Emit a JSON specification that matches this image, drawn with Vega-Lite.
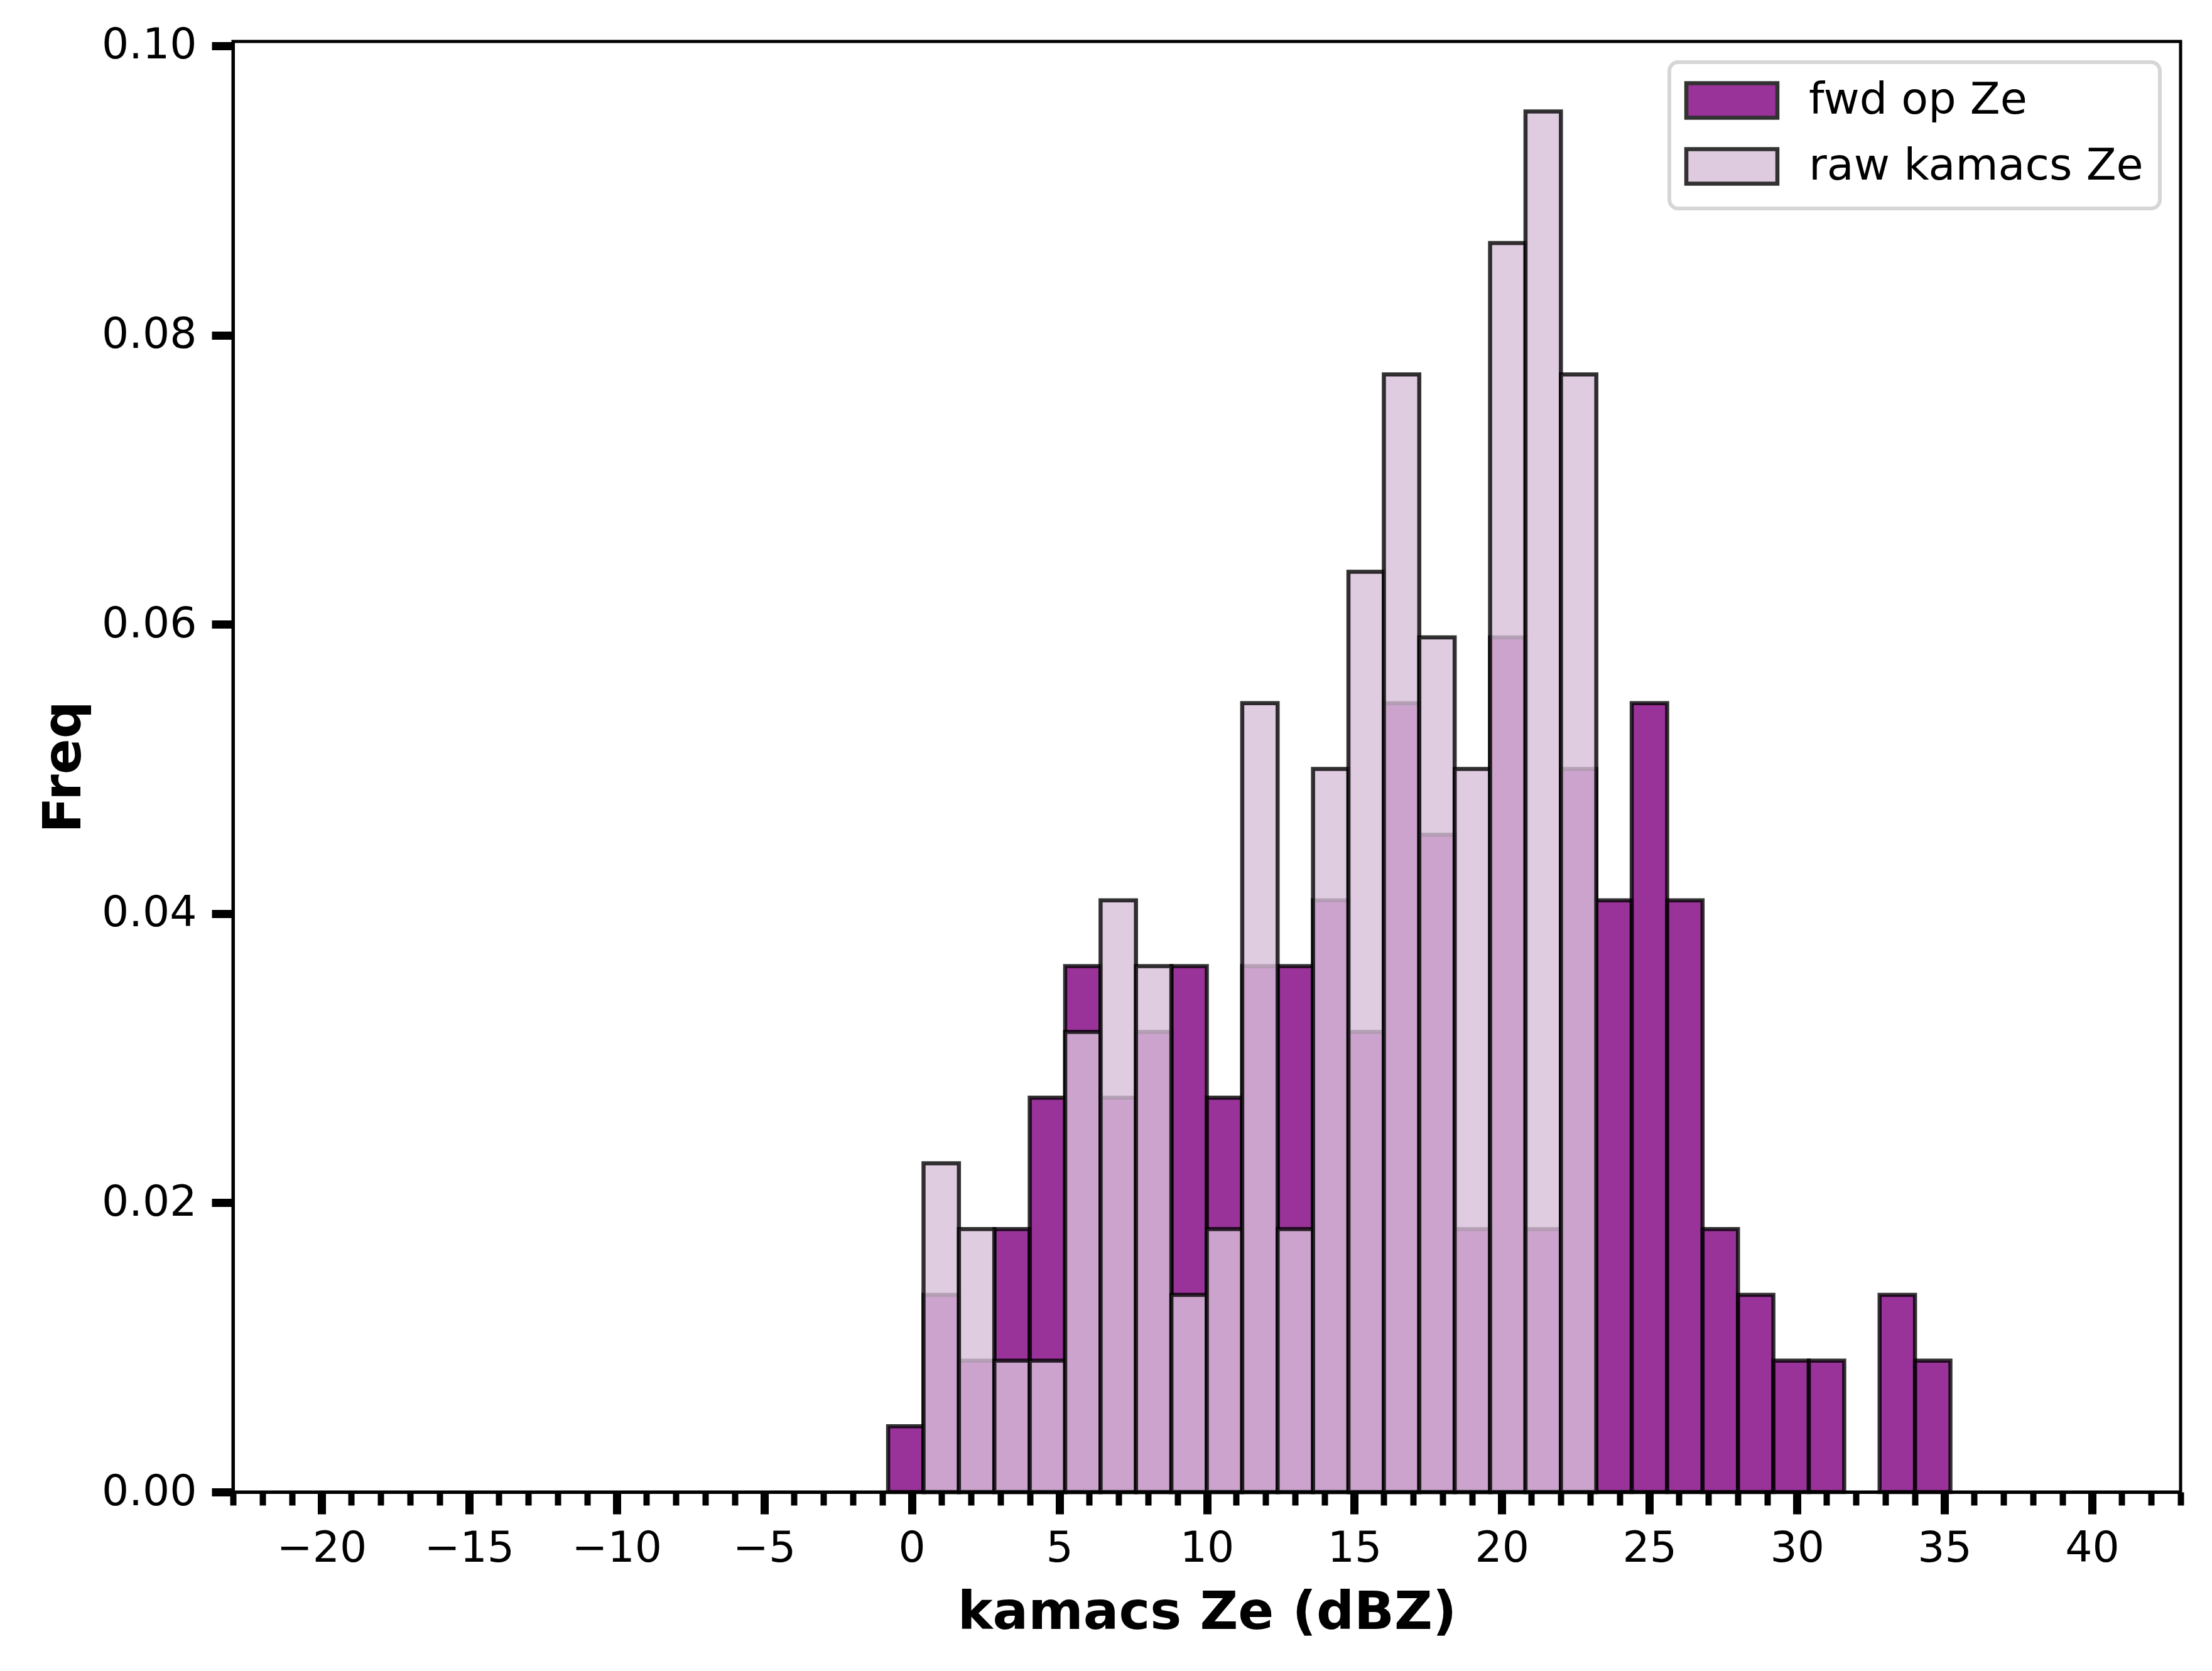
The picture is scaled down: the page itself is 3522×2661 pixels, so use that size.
{
  "$schema": "https://vega.github.io/schema/vega-lite/v6.json",
  "width": 3101,
  "height": 2310,
  "autosize": {"type": "none"},
  "padding": {"left": 371, "top": 66, "right": 50, "bottom": 285},
  "background": "white",
  "data": {
    "values": [
      {"series": "fwd op Ze", "lo": -0.8, "hi": 0.4, "freq": 0.004545},
      {"series": "fwd op Ze", "lo": 0.4, "hi": 1.6, "freq": 0.013636},
      {"series": "fwd op Ze", "lo": 1.6, "hi": 2.8, "freq": 0.009091},
      {"series": "fwd op Ze", "lo": 2.8, "hi": 4.0, "freq": 0.018182},
      {"series": "fwd op Ze", "lo": 4.0, "hi": 5.2, "freq": 0.027273},
      {"series": "fwd op Ze", "lo": 5.2, "hi": 6.4, "freq": 0.036364},
      {"series": "fwd op Ze", "lo": 6.4, "hi": 7.6, "freq": 0.027273},
      {"series": "fwd op Ze", "lo": 7.6, "hi": 8.8, "freq": 0.031818},
      {"series": "fwd op Ze", "lo": 8.8, "hi": 10.0, "freq": 0.036364},
      {"series": "fwd op Ze", "lo": 10.0, "hi": 11.2, "freq": 0.027273},
      {"series": "fwd op Ze", "lo": 11.2, "hi": 12.4, "freq": 0.036364},
      {"series": "fwd op Ze", "lo": 12.4, "hi": 13.6, "freq": 0.036364},
      {"series": "fwd op Ze", "lo": 13.6, "hi": 14.8, "freq": 0.040909},
      {"series": "fwd op Ze", "lo": 14.8, "hi": 16.0, "freq": 0.031818},
      {"series": "fwd op Ze", "lo": 16.0, "hi": 17.2, "freq": 0.054545},
      {"series": "fwd op Ze", "lo": 17.2, "hi": 18.4, "freq": 0.045455},
      {"series": "fwd op Ze", "lo": 18.4, "hi": 19.6, "freq": 0.018182},
      {"series": "fwd op Ze", "lo": 19.6, "hi": 20.8, "freq": 0.059091},
      {"series": "fwd op Ze", "lo": 20.8, "hi": 22.0, "freq": 0.018182},
      {"series": "fwd op Ze", "lo": 22.0, "hi": 23.2, "freq": 0.05},
      {"series": "fwd op Ze", "lo": 23.2, "hi": 24.4, "freq": 0.040909},
      {"series": "fwd op Ze", "lo": 24.4, "hi": 25.6, "freq": 0.054545},
      {"series": "fwd op Ze", "lo": 25.6, "hi": 26.8, "freq": 0.040909},
      {"series": "fwd op Ze", "lo": 26.8, "hi": 28.0, "freq": 0.018182},
      {"series": "fwd op Ze", "lo": 28.0, "hi": 29.2, "freq": 0.013636},
      {"series": "fwd op Ze", "lo": 29.2, "hi": 30.4, "freq": 0.009091},
      {"series": "fwd op Ze", "lo": 30.4, "hi": 31.6, "freq": 0.009091},
      {"series": "fwd op Ze", "lo": 32.8, "hi": 34.0, "freq": 0.013636},
      {"series": "fwd op Ze", "lo": 34.0, "hi": 35.2, "freq": 0.009091},
      {"series": "raw kamacs Ze", "lo": 0.4, "hi": 1.6, "freq": 0.022727},
      {"series": "raw kamacs Ze", "lo": 1.6, "hi": 2.8, "freq": 0.018182},
      {"series": "raw kamacs Ze", "lo": 2.8, "hi": 4.0, "freq": 0.009091},
      {"series": "raw kamacs Ze", "lo": 4.0, "hi": 5.2, "freq": 0.009091},
      {"series": "raw kamacs Ze", "lo": 5.2, "hi": 6.4, "freq": 0.031818},
      {"series": "raw kamacs Ze", "lo": 6.4, "hi": 7.6, "freq": 0.040909},
      {"series": "raw kamacs Ze", "lo": 7.6, "hi": 8.8, "freq": 0.036364},
      {"series": "raw kamacs Ze", "lo": 8.8, "hi": 10.0, "freq": 0.013636},
      {"series": "raw kamacs Ze", "lo": 10.0, "hi": 11.2, "freq": 0.018182},
      {"series": "raw kamacs Ze", "lo": 11.2, "hi": 12.4, "freq": 0.054545},
      {"series": "raw kamacs Ze", "lo": 12.4, "hi": 13.6, "freq": 0.018182},
      {"series": "raw kamacs Ze", "lo": 13.6, "hi": 14.8, "freq": 0.05},
      {"series": "raw kamacs Ze", "lo": 14.8, "hi": 16.0, "freq": 0.063636},
      {"series": "raw kamacs Ze", "lo": 16.0, "hi": 17.2, "freq": 0.077273},
      {"series": "raw kamacs Ze", "lo": 17.2, "hi": 18.4, "freq": 0.059091},
      {"series": "raw kamacs Ze", "lo": 18.4, "hi": 19.6, "freq": 0.05},
      {"series": "raw kamacs Ze", "lo": 19.6, "hi": 20.8, "freq": 0.086364},
      {"series": "raw kamacs Ze", "lo": 20.8, "hi": 22.0, "freq": 0.095455},
      {"series": "raw kamacs Ze", "lo": 22.0, "hi": 23.2, "freq": 0.077273}
    ]
  },
  "encoding": {
    "x2": {"field": "hi"},
    "y": {
      "field": "freq",
      "type": "quantitative",
      "scale": {"domain": [0, 0.1003], "nice": false, "zero": true},
      "axis": {
        "values": [0, 0.02, 0.04, 0.06, 0.08, 0.1],
        "format": ".2f",
        "title": "Freq",
        "grid": false,
        "tickSize": 34,
        "tickWidth": 13,
        "labelPadding": 24,
        "titlePadding": 26,
        "zindex": 1
      }
    },
    "y2": {"datum": 0},
    "color": {
      "field": "series",
      "type": "nominal",
      "scale": {"domain": ["fwd op Ze", "raw kamacs Ze"], "range": ["purple", "thistle"]},
      "legend": {
        "title": null,
        "orient": "none",
        "legendX": 2287,
        "legendY": 33,
        "symbolType": "M-1.236,-1H4.036V1H-1.236Z",
        "symbolSize": 3025,
        "symbolStrokeColor": "black",
        "symbolStrokeWidth": 6.5,
        "symbolOpacity": 0.8,
        "labelOffset": 126,
        "padding": 26,
        "rowPadding": 23,
        "fillColor": "white",
        "strokeColor": "#d6d6d6",
        "cornerRadius": 14
      }
    }
  },
  "layer": [
    {
      "transform": [{"filter": "datum.series === 'fwd op Ze'"}],
      "mark": {"type": "bar", "fillOpacity": 0.8, "stroke": "black", "strokeOpacity": 0.8, "strokeWidth": 6.5},
      "encoding": {
        "x": {
          "field": "lo",
          "type": "quantitative",
          "scale": {"domain": [-23, 43], "nice": false, "zero": false},
          "axis": {
            "orient": "bottom",
            "values": [-20, -15, -10, -5, 0, 5, 10, 15, 20, 25, 30, 35, 40],
            "format": "d",
            "title": "kamacs Ze (dBZ)",
            "grid": false,
            "tickSize": 35,
            "tickWidth": 13,
            "labelPadding": 21,
            "titlePadding": 27,
            "labelFlush": false,
            "labelOverlap": false,
            "zindex": 1
          }
        }
      }
    },
    {
      "transform": [{"filter": "datum.series === 'raw kamacs Ze'"}],
      "mark": {"type": "bar", "fillOpacity": 0.8, "stroke": "black", "strokeOpacity": 0.8, "strokeWidth": 6.5},
      "encoding": {
        "x": {
          "field": "lo",
          "type": "quantitative",
          "axis": {
            "orient": "bottom",
            "values": [-23, -22, -21, -20, -19, -18, -17, -16, -15, -14, -13, -12, -11, -10, -9, -8, -7, -6, -5, -4, -3, -2, -1, 0, 1, 2, 3, 4, 5, 6, 7, 8, 9, 10, 11, 12, 13, 14, 15, 16, 17, 18, 19, 20, 21, 22, 23, 24, 25, 26, 27, 28, 29, 30, 31, 32, 33, 34, 35, 36, 37, 38, 39, 40, 41, 42, 43],
            "labels": false,
            "title": null,
            "domain": false,
            "grid": false,
            "tickSize": 21,
            "tickWidth": 10,
            "zindex": 1
          }
        }
      }
    }
  ],
  "resolve": {"axis": {"x": "independent"}},
  "config": {
    "font": "DejaVu Sans",
    "view": {"stroke": "black", "strokeWidth": 5},
    "axis": {
      "domainColor": "black",
      "domainWidth": 5,
      "tickColor": "black",
      "labelColor": "black",
      "labelFont": "DejaVu Sans",
      "labelFontSize": 68,
      "titleColor": "black",
      "titleFont": "DejaVu Sans",
      "titleFontSize": 84,
      "titleFontWeight": "bold"
    },
    "legend": {
      "labelFont": "DejaVu Sans",
      "labelFontSize": 70,
      "labelColor": "black",
      "labelLimit": 2000,
      "strokeWidth": 6
    }
  }
}
